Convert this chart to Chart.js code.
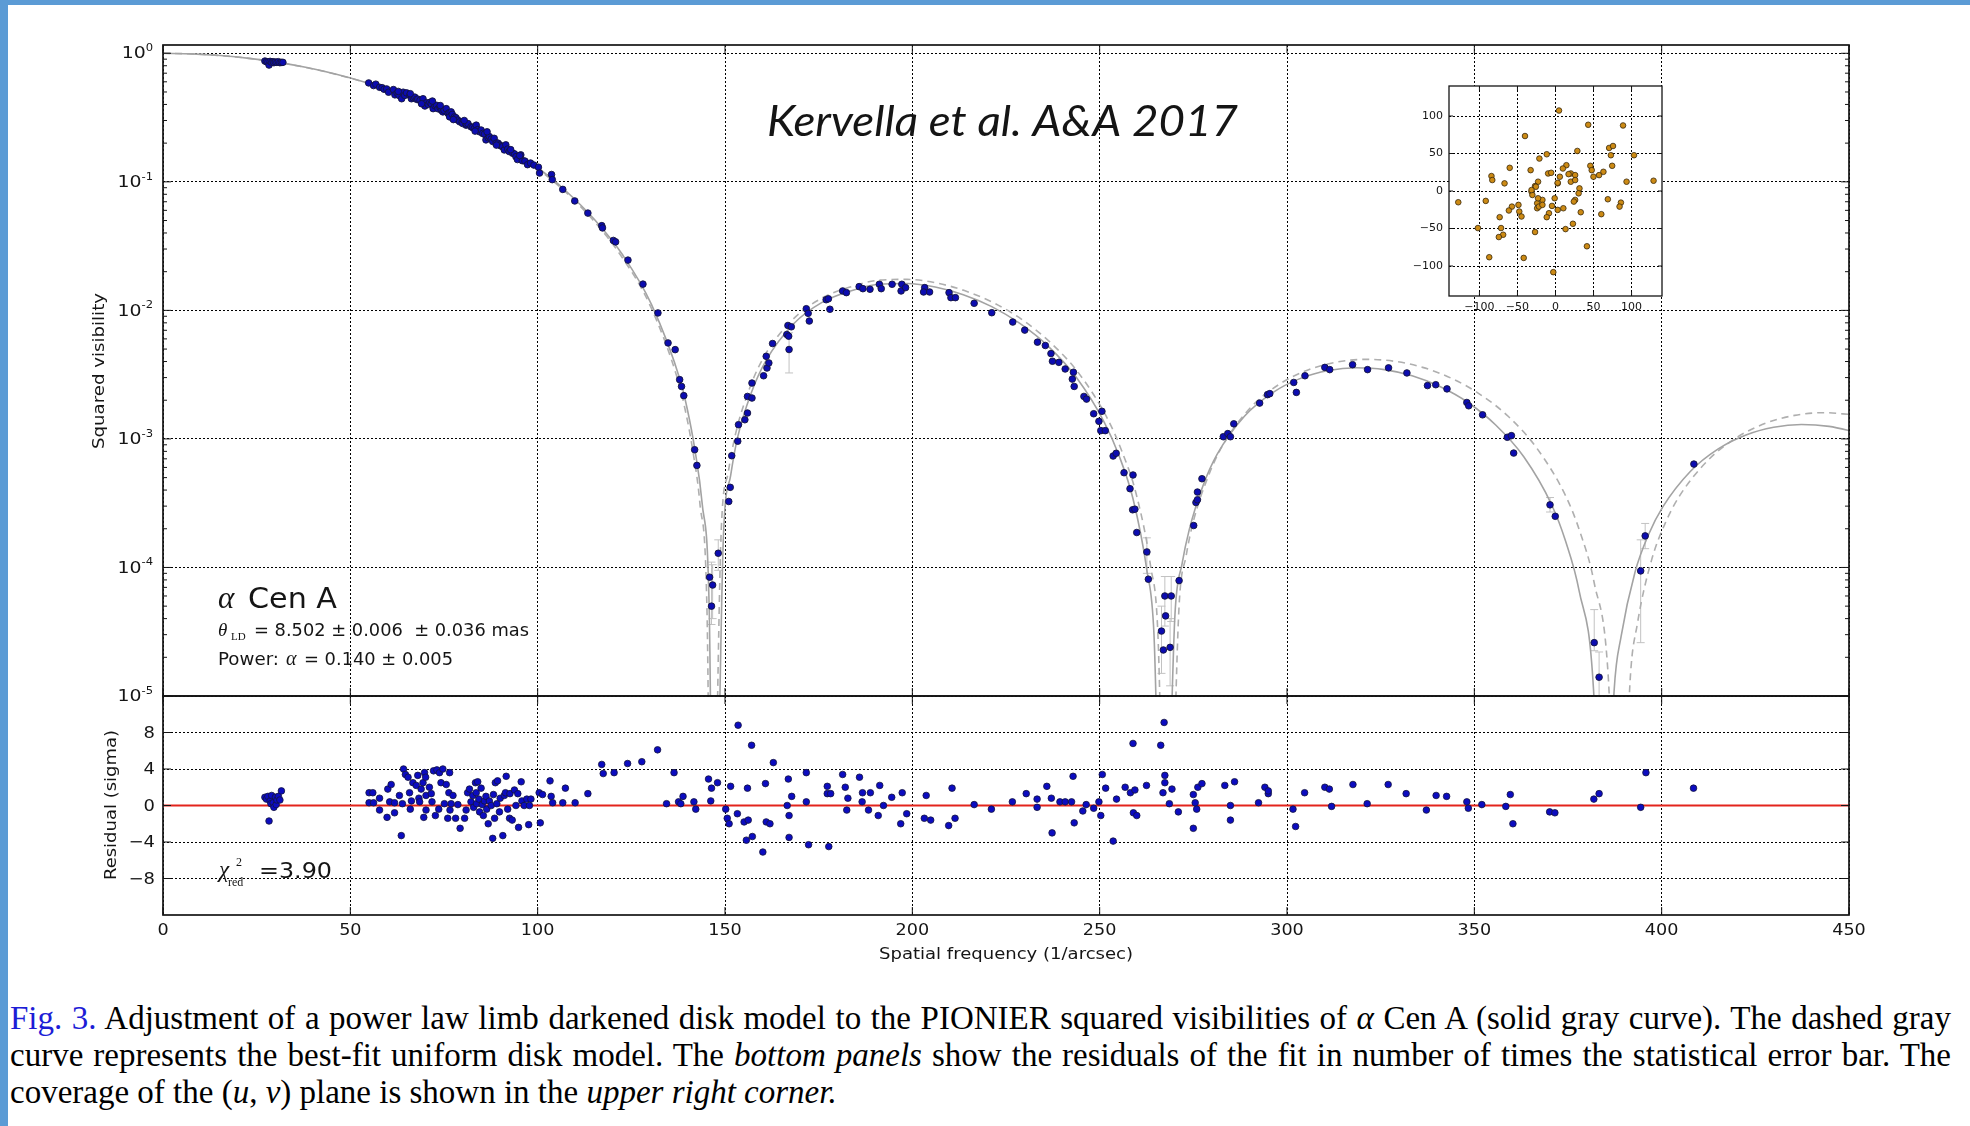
<!DOCTYPE html>
<html>
<head>
<meta charset="utf-8">
<script src="https://cdn.jsdelivr.net/npm/chart.js@4.4.1/dist/chart.umd.min.js"></script>
<style>
  body { margin: 0; background: #fff; }
  #page { position: relative; width: 1970px; height: 1126px; overflow: hidden; background: #fff; }
  .bar { position: absolute; background: #5b9bd5; }
  canvas { position: absolute; }
  .cap { position: absolute; left: 10px; font-family: "Liberation Serif", serif; font-size: 33px; line-height: 37px; white-space: nowrap; color: #000; }
  .fig { color: #1d1dd6; }
</style>
</head>
<body>
<div id="page">
  <div class="bar" style="left:0;top:0;width:1970px;height:5px"></div>
  <div class="bar" style="left:0;top:0;width:8px;height:1126px"></div>
  <canvas id="visChart" width="1970" height="720" style="left:0;top:0"></canvas>
  <canvas id="resChart" width="1970" height="300" style="left:0;top:680px"></canvas>
  <canvas id="uvChart" width="290" height="260" style="left:1400px;top:70px"></canvas>
  <div class="cap" id="cap1" style="top:1000px"><span class="fig">Fig. 3.</span> Adjustment of a power law limb darkened disk model to the PIONIER squared visibilities of <i>α</i> Cen A (solid gray curve). The dashed gray</div>
  <div class="cap" id="cap2" style="top:1037px">curve represents the best-fit uniform disk model. The <i>bottom panels</i> show the residuals of the fit in number of times the statistical error bar. The</div>
  <div class="cap" id="cap3" style="top:1074px">coverage of the (<i>u</i>, <i>v</i>) plane is shown in the <i>upper right corner.</i></div>
</div>
<script>
// axis ticks
const freqTicks = [0, 50, 100, 150, 200, 250, 300, 350, 400, 450];
const visDecades = [0, -1, -2, -3, -4, -5];
const resTicks = [-8, -4, 0, 4, 8];
const uvTicks = [-100, -50, 0, 50, 100];

// power-law limb darkened disk fit (solid gray)
const ldFreq = [0, 7.7, 15.3, 23.0, 30.7, 38.4, 46.0, 53.7, 61.4, 69.0,
  76.7, 84.4, 92.1, 99.7, 107.4, 115.1, 122.8, 130.4, 138.1, 140.0,
  141.9, 143.9, 145.8, 147.0,
  149.6, 151.5, 153.3, 157.1, 160.9, 168.4, 175.9, 183.5, 191.0, 198.6,
  206.1, 213.6, 221.2, 228.7, 236.3, 243.8, 251.3, 255.1, 258.9, 262.6,
  264.5, 267.0,
  270.1, 272.0, 273.9, 277.6, 281.3, 288.7, 296.2, 303.6, 311.1, 318.5,
  326.0, 333.4, 340.8, 348.3, 355.7, 363.2, 370.6, 374.3, 378.0, 381.8,
  384.5,
  387.3, 389.2, 392.9, 396.6, 400.3, 407.7, 415.1, 422.5, 429.9, 437.3,
  444.7, 452.1];
const ldVis2 = [1, 0.990, 0.960, 0.913, 0.850, 0.775, 0.690, 0.599, 0.508, 0.418,
  0.333, 0.256, 0.188, 0.131, 0.0856, 0.0511, 0.0267, 0.0111, 0.00282, 0.00167,
  8.46e-4, 3.15e-4, 4.54e-5, 1e-7,
  1.81e-4, 5.18e-4, 1.01e-3, 2.32e-3, 4.05e-3, 7.90e-3, 0.01153, 0.01414, 0.01597, 0.0162,
  0.01521, 0.01325, 0.0107, 0.00791, 0.00525, 0.0030, 0.001335, 7.5e-4, 3.42e-4, 9.5e-5,
  3.0e-5, 1e-7,
  4.33e-5, 1.07e-4, 1.96e-4, 4.34e-4, 7.54e-4, 1.509e-3, 2.294e-3, 2.958e-3, 3.406e-3, 3.575e-3,
  3.462e-3, 3.099e-3, 2.555e-3, 1.921e-3, 1.284e-3, 7.27e-4, 3.09e-4, 1.62e-4, 6.51e-5, 1.14e-5,
  1e-7,
  1.09e-5, 2.93e-5, 9.23e-5, 1.83e-4, 2.96e-4, 5.61e-4, 8.37e-4, 1.074e-3, 1.234e-3, 1.296e-3,
  1.252e-3, 1.123e-3];

// best-fit uniform disk (dashed gray)
const udFreq = [0, 7.6, 15.3, 22.9, 30.6, 38.2, 45.8, 53.5, 61.1, 68.8,
  76.4, 84.0, 91.7, 99.3, 107.0, 114.6, 122.2, 129.9, 137.5, 139.4,
  141.3, 143.3, 145.2, 146.4,
  149.0, 150.9, 152.8, 156.6, 160.4, 168.1, 175.7, 183.4, 191.0, 198.6,
  206.3, 213.9, 221.6, 229.2, 236.8, 244.5, 252.1, 255.9, 259.8, 263.6,
  265.5, 268.0,
  271.2, 273.1, 275.0, 278.9, 282.7, 290.3, 298.0, 305.6, 313.2, 320.9,
  328.5, 336.2, 343.8, 351.4, 359.1, 366.7, 374.4, 378.2, 382.0, 385.8,
  388.6,
  391.6, 393.5, 397.3, 401.1, 404.9, 412.6, 420.2, 427.8, 435.5, 443.1,
  450.8];
const udVis2 = [1, 0.990, 0.960, 0.913, 0.850, 0.775, 0.690, 0.599, 0.508, 0.418,
  0.333, 0.256, 0.188, 0.131, 0.0856, 0.0511, 0.0267, 0.0111, 0.00282, 0.00167,
  8.46e-4, 3.15e-4, 4.54e-5, 1e-7,
  1.95e-4, 5.57e-4, 1.089e-3, 2.49e-3, 4.356e-3, 8.497e-3, 0.0124, 0.0152, 0.01717, 0.01742,
  0.01636, 0.01425, 0.0115, 0.008507, 0.005644, 0.003221, 0.001435, 8.06e-4, 3.68e-4, 1.02e-4,
  3.25e-5, 1e-7,
  5.04e-5, 1.24e-4, 2.28e-4, 5.05e-4, 8.77e-4, 1.755e-3, 2.667e-3, 3.44e-3, 3.96e-3, 4.157e-3,
  4.025e-3, 3.603e-3, 2.971e-3, 2.234e-3, 1.493e-3, 8.45e-4, 3.59e-4, 1.89e-4, 7.57e-5, 1.33e-5,
  1e-7,
  1.35e-5, 3.62e-5, 1.14e-4, 2.26e-4, 3.65e-4, 6.93e-4, 1.033e-3, 1.326e-3, 1.524e-3, 1.6e-3,
  1.546e-3];

// PIONIER squared visibilities
const obsFreq = [27.2, 27.6, 28.0, 28.3, 28.6, 29.0, 29.4, 29.6, 30.0, 30.4, 30.8, 31.2, 31.6, 32.0,
  54.9, 56.2, 56.8, 57.8, 58.5, 59.0, 59.7, 60.2, 61.5, 61.9,
  62.5, 63.0, 63.7, 64.1, 64.5, 65.0, 65.9, 66.3, 66.8, 67.2,
  67.7, 68.0, 68.6, 69.4, 69.9, 70.3, 70.8, 71.2, 71.6, 72.1,
  72.6, 73.0, 73.4, 73.9, 74.3, 74.7, 75.0, 75.6, 76.1, 76.4,
  76.5, 76.9, 77.2, 77.8, 78.2, 78.7, 79.2, 79.8, 80.0, 80.9,
  81.0, 81.4, 82.2, 82.6, 83.1, 83.6, 84.0, 84.5, 84.9, 85.3,
  85.8, 86.2, 86.8, 87.1, 87.6, 88.0, 88.4, 88.9, 89.4, 89.8,
  90.2, 90.6, 91.1, 91.5, 92.0, 92.4, 93.3, 93.8, 94.2, 94.6,
  95.5, 95.9, 96.6, 97.3, 98.1, 99.0,
  62.8, 66.0, 69.0, 71.9, 74.0, 77.5, 80.4, 83.3, 86.5, 89.0, 92.8, 95.2,
  100.2, 100.5, 103.7, 103.9, 106.7, 109.9, 113.4, 117.1, 117.3, 120.2,
  120.8, 124.1, 128.1, 132.1, 134.8, 136.7, 137.9, 138.4, 139.0, 141.9,
  142.5, 145.9, 146.4, 146.7, 148.2, 151.0, 151.4, 151.8,
  153.4, 153.6, 155.3, 156.0, 156.0, 157.2, 157.2, 160.3, 161.2, 161.7,
  161.0, 162.7, 166.5, 167.0, 166.8, 167.7, 167.1, 171.7, 172.2, 172.5,
  177.0, 177.6, 178.0, 181.4, 182.4, 185.8, 186.8, 188.7, 191.2, 191.7,
  194.6, 197.2, 197.0, 198.2, 203.3, 204.6, 203.0, 209.8, 210.3, 211.5,
  216.5, 221.2, 226.8, 230.0, 233.4, 235.5, 237.0, 237.4, 239.1, 240.8,
  243.0, 242.7, 243.2, 245.8, 246.5, 248.4, 250.6, 249.8, 250.3, 251.5,
  253.6, 254.4, 256.5, 258.9,
  258.1, 258.8, 259.4, 259.9, 262.6, 263.0, 266.5, 267.0, 267.4, 267.6,
  268.8, 269.1, 271.2, 275.1, 275.7, 276.1, 276.1, 277.3, 283.0, 284.2,
  284.9, 285.8, 292.7, 294.8, 295.4, 301.8, 302.5, 304.8, 310.1, 311.4,
  317.5, 321.5, 327.1, 332.0, 337.5, 339.7, 342.7, 348.0, 348.5, 352.2,
  358.8, 359.9, 360.5, 370.2, 371.6, 382.0, 383.3, 394.4, 395.6, 408.6];
const obsVis2 = [0.87, 0.86, 0.855, 0.81, 0.865, 0.85, 0.86, 0.845, 0.855, 0.85, 0.86, 0.845, 0.85, 0.85,
  0.588, 0.561, 0.575, 0.544, 0.54, 0.525, 0.528, 0.498, 0.522, 0.475,
  0.49, 0.47, 0.443, 0.498, 0.47, 0.492, 0.470, 0.443, 0.45, 0.456,
  0.438, 0.44, 0.430, 0.443, 0.389, 0.412, 0.40, 0.415, 0.405, 0.371,
  0.39, 0.394, 0.37, 0.382, 0.360, 0.350, 0.36, 0.371, 0.340, 0.345,
  0.320, 0.350, 0.335, 0.320, 0.315, 0.302, 0.293, 0.29, 0.284, 0.276,
  0.28, 0.284, 0.268, 0.265, 0.260, 0.276, 0.255, 0.245, 0.253, 0.238,
  0.235, 0.212, 0.22, 0.225, 0.215, 0.206, 0.218, 0.200, 0.20, 0.194,
  0.19, 0.188, 0.177, 0.194, 0.18, 0.172, 0.167, 0.165, 0.157, 0.149,
  0.162, 0.146, 0.145, 0.136, 0.140, 0.135,
  0.505, 0.485, 0.405, 0.425, 0.392, 0.305, 0.300, 0.248, 0.245, 0.193, 0.178, 0.160,
  0.130, 0.117, 0.114, 0.104, 0.0873, 0.0710, 0.0571, 0.0456, 0.0438, 0.0350,
  0.0341, 0.0246, 0.0160, 0.00955, 0.00558, 0.00495, 0.00289, 0.00256, 0.00217, 8.24e-4,
  6.22e-4, 8.4e-5, 5.0e-5, 7.3e-5, 1.29e-4, 3.26e-4, 4.2e-4, 7.4e-4,
  9.6e-4, 1.29e-3, 1.41e-3, 1.59e-3, 2.14e-3, 2.08e-3, 2.72e-3, 3.1e-3, 3.56e-3, 3.9e-3,
  4.39e-3, 5.52e-3, 6.49e-3, 6.3e-3, 7.63e-3, 7.45e-3, 4.96e-3, 0.0103, 9.48e-3, 8.26e-3,
  0.0121, 0.0123, 0.0102, 0.01416, 0.01374, 0.0153, 0.01475, 0.0146, 0.01596, 0.01475,
  0.01596, 0.01596, 0.01416, 0.01503, 0.01503, 0.0139, 0.0139, 0.01374, 0.01256, 0.01256,
  0.01135, 9.59e-3, 8.11e-3, 7.02e-3, 5.66e-3, 5.33e-3, 4.61e-3, 4.02e-3, 3.94e-3, 3.5e-3,
  3.3e-3, 2.92e-3, 2.56e-3, 2.14e-3, 2.04e-3, 1.57e-3, 1.64e-3, 1.37e-3, 1.16e-3, 1.16e-3,
  7.36e-4, 7.73e-4, 5.46e-4, 5.24e-4,
  4.1e-4, 2.81e-4, 2.84e-4, 1.87e-4, 1.32e-4, 8.1e-5, 3.2e-5, 2.28e-5, 6.0e-5, 4.2e-5,
  2.39e-5, 6.0e-5, 7.9e-5, 2.12e-4, 3.2e-4, 3.36e-4, 3.86e-4, 4.9e-4, 1.04e-3, 1.1e-3,
  1.04e-3, 1.31e-3, 1.9e-3, 2.21e-3, 2.25e-3, 2.75e-3, 2.3e-3, 3.1e-3, 3.6e-3, 3.46e-3,
  3.78e-3, 3.46e-3, 3.57e-3, 3.26e-3, 2.6e-3, 2.64e-3, 2.45e-3, 1.92e-3, 1.81e-3, 1.54e-3,
  1.03e-3, 1.06e-3, 7.76e-4, 3.07e-4, 2.5e-4, 2.6e-5, 1.4e-5, 9.4e-5, 1.76e-4, 6.37e-4];

// error bars large enough to show outside the markers
const errFreq = [146.4, 146.7, 148.2, 167.1, 262.6, 266.5, 267.4, 268.8, 269.1, 370.2, 382.0, 383.3, 394.4, 395.6];
const errLow = [3.6e-5, 4.0e-5, 9.5e-5, 3.26e-3, 9.0e-5, 1.5e-5, 3.5e-5, 1.2e-5, 3.8e-5, 2.7e-4, 2.25e-5, 8e-6, 2.6e-5, 1.4e-4];
const errHigh = [1.1e-4, 1.05e-4, 1.64e-4, 6.7e-3, 1.7e-4, 5.0e-5, 8.5e-5, 4.0e-5, 8.5e-5, 3.5e-4, 4.7e-5, 2.2e-5, 1.64e-4, 2.2e-4];

// residuals in units of the statistical error
const resFreq = [27.2, 27.6, 28.0, 28.3, 28.6, 28.8, 29.0, 29.4, 29.6, 30.0, 30.2, 30.4, 30.8, 31.2, 31.6,
  55.0, 56.0, 55.0, 56.2, 57.8, 57.8, 59.8, 60.0, 60.9, 60.5,
  61.8, 61.8, 63.1, 63.9, 63.6, 64.2, 64.7, 65.4, 65.8, 66.0,
  66.3, 66.7, 67.6, 68.0, 68.3, 68.5, 68.9, 69.4, 69.8, 70.1,
  70.2, 69.6, 70.2, 71.1, 71.6, 71.8, 72.2, 72.7, 73.1, 73.6,
  73.8, 74.2, 74.7, 75.1, 75.6, 76.0, 76.3, 76.5, 76.6, 76.9,
  77.4, 78.1, 78.7, 79.3, 80.5, 80.9, 81.3, 81.8, 82.2, 82.7,
  82.9, 83.4, 83.6, 83.7, 84.0, 84.3, 84.5, 84.9, 85.2, 85.5,
  85.8, 86.2, 86.4, 86.8, 87.1, 87.6, 88.0, 88.2, 88.5, 88.7,
  89.1, 89.3, 89.8, 90.0, 90.7, 91.1, 91.4, 91.6, 92.0, 92.5,
  92.6, 93.2, 93.8, 94.2, 94.7, 94.9, 95.6, 95.8, 96.4, 97.1,
  97.6, 97.8, 98.2, 100.4, 100.7, 101.3, 103.3, 103.6, 104.0, 106.7,
  107.4, 110.0, 113.4, 117.1, 117.5, 120.4, 124.0, 127.8, 132.0, 134.4,
  136.4, 137.6, 138.2, 138.8, 141.7, 142.2, 145.6, 146.2, 146.4, 148.0,
  150.2, 150.6, 151.1, 151.5, 153.3, 155.1, 155.7, 156.0, 156.2, 157.1,
  157.3, 160.1, 160.8, 161.0, 153.5,
  162.0, 162.9, 166.6, 166.9, 167.1, 167.1, 167.8, 171.7, 171.7, 172.3,
  177.3, 177.3, 177.7, 178.2, 181.4, 182.1, 182.5, 182.8, 185.9, 186.6,
  186.7, 188.3, 188.8, 190.9, 191.3, 192.3, 194.5, 196.9, 197.3, 198.5,
  203.2, 203.7, 204.9, 209.7, 210.6, 211.4, 216.5, 221.1,
  226.7, 230.4, 233.3, 233.3, 235.9, 237.1, 237.3, 239.4, 240.8, 242.5,
  242.9, 243.2, 245.5, 246.4, 248.4, 249.8, 250.3, 250.7, 251.6, 253.6,
  254.5, 256.8, 258.2, 258.9, 259.0, 259.4, 259.9, 262.5, 266.3, 266.9,
  267.2, 267.4, 267.4, 268.6, 269.3, 271.0, 275.0, 275.0, 275.5, 275.9,
  276.2, 277.3, 283.4, 284.9, 284.9, 286.0, 292.4, 294.1, 295.0, 295.0,
  301.6, 302.3, 304.7, 310.1, 311.3, 311.9, 317.6, 321.4, 327.0, 331.8,
  337.2, 339.8, 342.6, 348.0, 348.4, 352.0, 358.4, 359.6, 360.3, 370.1,
  371.5, 381.9, 383.3, 394.4, 395.8, 408.5];
const resSigma = [0.9, 0.7, 1.0, -1.7, 0.5, 0.2, 1.1, 0.3, -0.2, 0.9, 0.1, 0.6, 1.0, 0.6, 1.6,
  1.4, 1.4, 0.3, 0.3, 0.8, -0.5, -1.3, 1.8, 2.3, 0.4,
  0.3, -0.8, 1.1, 0.2, -3.3, 4.0, 3.4, 3.1, 1.4, -0.4,
  0.5, 2.5, 2.2, 3.3, 0.8, 0.4, 1.8, 2.5, 3.6, 3.1,
  1.1, -1.3, -0.5, 2.0, 1.3, 0.4, 3.8, -1.1, 3.9, -0.4,
  3.6, 2.5, 4.0, 0.2, 2.3, -1.4, 1.4, 3.6, -0.5, 0.2,
  1.1, -1.4, 0.1, -2.5, -1.4, -0.5, 1.4, 1.8, 0.4, 1.1,
  -0.2, 2.5, 1.4, 0.2, 2.6, 0.7, -0.7, 1.9, 0.1, -1.1,
  0.5, 1.0, -0.4, -2.0, 0.5, 0.0, -3.6, 1.2, -1.4, 2.5,
  0.2, 2.7, -0.7, 0.8, -3.3, 1.1, 1.4, 3.2, -0.4, -1.4,
  1.3, -1.6, 1.7, 0.0, 1.3, -2.4, 2.6, 0.5, 0.0, 0.7,
  -2.1, 0.0, 0.7, 1.4, -1.9, 1.2, 2.7, 1.0, 0.3, 0.3,
  1.9, 0.3, 1.3, 4.5, 3.5, 3.6, 4.6, 4.8, 6.1, 0.2,
  3.6, 0.4, 0.2, 1.0, 0.4, -0.4, 2.9, 0.5, 1.9, 2.5,
  -0.4, -1.4, -2.0, 2.1, -0.9, -1.8, -3.8, 1.9, -1.6, 6.6,
  -3.4, -5.1, 2.4, -1.8, 8.8,
  -2.0, 4.7, 0.0, 2.9, -1.1, -3.5, 1.0, 3.6, 0.4, -4.3,
  2.1, 1.3, -4.5, 1.3, 3.4, 2.0, -0.5, 0.8, 3.1, 0.4,
  1.4, -0.5, 1.4, -1.1, 2.2, 0.0, 0.9, -2.0, 1.4, -0.9,
  -1.4, 1.1, -1.6, -2.2, 1.9, -1.4, 0.1, -0.4,
  0.4, 1.3, 0.7, -0.2, 2.1, 0.8, -3.0, 0.4, 0.4, 0.4,
  3.2, -1.9, -0.6, 0.1, -0.3, 0.4, -1.1, 3.4, 1.9, -3.9,
  0.7, 2.0, 1.4, 6.8, -0.8, 1.7, -1.1, 2.2, 6.6, 1.4,
  9.1, 3.3, 2.5, 0.2, 1.8, -0.7, 1.2, -2.5, 0.3, -0.4,
  2.0, 2.4, 2.2, 0.0, -1.6, 2.6, 0.3, 2.0, 1.3, 1.6,
  -0.4, -2.3, 1.4, 2.0, 1.8, -0.1, 2.3, 0.2, 2.3, 1.3,
  -0.5, 1.1, 1.0, 0.4, -0.3, 0.1, -0.1, 1.2, -2.0, -0.7,
  -0.8, 0.7, 1.3, -0.2, 3.6, 1.9];

// (u, v) plane coverage
const uCoord = [4.6, 43.0, 88.8, -40.1, 70.5, 75.6, 28.7, -11.5, -21.2, 72.8,
  103.2, -60.2, -32.7, 14.3, 9.7, 45.8, 74.5, -84.2, -83.1, -67.0,
  -9.7, -5.7, 5.7, 20.1, 25.8, 20.1, 25.8, 47.6, 49.9, 57.3,
  63.0, 93.4, 128.9, -22.9, -26.9, -31.5, -30.4, 31.5, 30.4, 2.9,
  -1.1, -127.8, -91.7, -57.3, -61.3, -48.7, -47.6, -44.7, -24.1, -24.1,
  -21.8, -17.2, -17.2, -4.6, 2.9, -8.6, -11.5, 10.3, 25.8, 24.1,
  33.2, 60.2, 68.8, 86.0, 84.2, -73.4, -102.0, -71.6, -68.8, -74.5,
  -26.9, 13.2, 22.9, 41.3, -87.1, -41.8, -2.9, -22.9, 2.9, 17.2,
  -25.8, -31.5];
const vCoord = [107.3, 88.3, 87.4, 73.3, 57.4, 60.0, 53.4, 49.0, 43.3, 47.7,
  47.7, 30.9, 27.8, 34.4, 30.0, 33.6, 33.6, 19.9, 14.6, 10.2,
  23.4, 24.3, 19.0, 23.4, 21.2, 12.4, 14.6, 27.8, 19.0, 21.2,
  25.6, 12.4, 13.7, 12.4, 6.6, -0.9, -5.3, 3.5, -3.1, 10.2,
  -9.7, -15.0, -13.2, -20.8, -26.0, -18.5, -27.4, -34.0, -16.3, -23.0,
  -20.8, -11.9, -18.5, -19.9, -25.2, -29.6, -34.9, -23.0, -11.9, -14.1,
  -28.3, -30.9, -11.0, -15.5, -20.8, -34.9, -49.4, -49.4, -58.3, -61.4,
  -54.7, -50.8, -43.7, -73.7, -88.3, -89.2, -108.2, -9.7, 11.0, 22.5,
  5.7, 1.3];

const INK = '#151515';

function drawText(ctx, text, x, y, font, align, baseline, stretch) {
  ctx.save();
  ctx.font = font;
  ctx.fillStyle = INK;
  ctx.textAlign = align;
  ctx.textBaseline = baseline;
  ctx.translate(x, y);
  ctx.scale(stretch, 1);
  ctx.fillText(text, 0, 0);
  ctx.restore();
}

// text squeezed or stretched to an exact width
function drawFitted(ctx, text, x, y, font, width, align, rotate) {
  ctx.save();
  ctx.font = font;
  ctx.fillStyle = INK;
  const w = ctx.measureText(text).width;
  ctx.translate(x, y);
  if (rotate) ctx.rotate(-Math.PI / 2);
  ctx.scale(width / w, 1);
  ctx.textAlign = align;
  ctx.textBaseline = rotate ? 'middle' : 'alphabetic';
  ctx.fillText(text, 0, 0);
  ctx.restore();
}

function tick(ctx, x, y, dx, dy) {
  ctx.beginPath();
  ctx.moveTo(x, y);
  ctx.lineTo(x + dx, y + dy);
  ctx.stroke();
}

function frame(ctx, a, width) {
  ctx.save();
  ctx.strokeStyle = INK;
  ctx.lineWidth = width;
  ctx.strokeRect(a.left, a.top, a.right - a.left, a.bottom - a.top);
  ctx.restore();
}

const baseOptions = (padding) => ({
  responsive: false,
  animation: false,
  events: [],
  layout: { padding },
  plugins: { legend: { display: false }, tooltip: { enabled: false } }
});

const gridStyle = { color: '#000', lineWidth: 1, drawTicks: false };
const gridBorder = { display: false, dash: [2, 2] };

// top panel: squared visibilities
const visDecor = {
  id: 'visDecor',
  beforeDatasetsDraw(chart) {
    const { ctx, chartArea: a, scales: { x, y } } = chart;
    ctx.save();
    ctx.beginPath();
    ctx.rect(a.left, a.top, a.right - a.left, a.bottom - a.top);
    ctx.clip();
    ctx.strokeStyle = '#c2c2c2';
    ctx.lineWidth = 1;
    errFreq.forEach((f, i) => {
      const px = x.getPixelForValue(f);
      const lo = y.getPixelForValue(errLow[i]);
      const hi = y.getPixelForValue(errHigh[i]);
      ctx.beginPath();
      ctx.moveTo(px, lo); ctx.lineTo(px, hi);
      ctx.moveTo(px - 4, lo); ctx.lineTo(px + 4, lo);
      ctx.moveTo(px - 4, hi); ctx.lineTo(px + 4, hi);
      ctx.stroke();
    });
    ctx.restore();
  },
  afterDraw(chart) {
    const { ctx, chartArea: a, scales: { x, y } } = chart;
    ctx.save();
    ctx.strokeStyle = INK;
    ctx.lineWidth = 1;
    // log minor ticks on both sides
    visDecades.forEach(d => {
      for (let m = 2; m <= 9; m++) {
        const v = m * Math.pow(10, d);
        if (v > y.max) continue;
        const py = y.getPixelForValue(v);
        tick(ctx, a.left, py, 4, 0);
        tick(ctx, a.right, py, -4, 0);
      }
      const py = y.getPixelForValue(Math.pow(10, d));
      tick(ctx, a.left, py, 8, 0);
      tick(ctx, a.right, py, -8, 0);
    });
    freqTicks.forEach(f => {
      const px = x.getPixelForValue(f);
      tick(ctx, px, a.top, 0, 8);
      tick(ctx, px, a.bottom, 0, -8);
    });
    ctx.restore();
    frame(ctx, a, 1.7);

    // decade labels 10^n
    visDecades.forEach(d => {
      const py = y.getPixelForValue(Math.pow(10, d));
      const exp = d === 0 ? '0' : '-' + Math.abs(d);
      ctx.font = '10.5px "DejaVu Sans"';
      const ew = ctx.measureText(exp).width * 1.1;
      const right = a.left - 10;
      drawText(ctx, exp, right, py - 5, '10.5px "DejaVu Sans"', 'right', 'middle', 1.1);
      drawText(ctx, '10', right - ew, py + 1, '16px "DejaVu Sans"', 'right', 'middle', 1.18);
    });

    drawFitted(ctx, 'Squared visibility', 100, 371, '16px "DejaVu Sans"', 156, 'center', true);

    drawFitted(ctx, 'Kervella et al. A&A 2017', 767, 136, 'italic 42px Lato', 471, 'left', false);

    drawText(ctx, 'α', 218, 608, 'italic 31px "Liberation Serif"', 'left', 'alphabetic', 1);
    drawFitted(ctx, 'Cen A', 248, 608, '29px "DejaVu Sans"', 89, 'left', false);

    drawText(ctx, 'θ', 218, 636, 'italic 19px "Liberation Serif"', 'left', 'alphabetic', 1);
    drawText(ctx, 'LD', 231, 640, '11px "Liberation Serif"', 'left', 'alphabetic', 1);
    drawFitted(ctx, '= 8.502 ± 0.006  ± 0.036 mas', 254, 636, '17px "DejaVu Sans"', 275, 'left', false);

    drawFitted(ctx, 'Power:', 218, 665, '17px "DejaVu Sans"', 61, 'left', false);
    drawText(ctx, 'α', 286, 665, 'italic 20px "Liberation Serif"', 'left', 'alphabetic', 1);
    drawFitted(ctx, '= 0.140 ± 0.005', 304, 665, '17px "DejaVu Sans"', 149, 'left', false);
  }
};

new Chart(document.getElementById('visChart'), {
  type: 'scatter',
  data: {
    datasets: [
      {
        data: obsFreq.map((f, i) => ({ x: f, y: obsVis2[i] })),
        pointRadius: 3.3,
        backgroundColor: '#0c0cb0',
        borderColor: '#14143c',
        borderWidth: 0.9,
        order: 0
      },
      {
        data: ldFreq.map((f, i) => ({ x: f, y: ldVis2[i] })),
        showLine: true,
        pointRadius: 0,
        borderColor: '#a3a3a3',
        borderWidth: 1.6,
        cubicInterpolationMode: 'monotone',
        clip: 0,
        order: 2
      },
      {
        data: udFreq.map((f, i) => ({ x: f, y: udVis2[i] })),
        showLine: true,
        pointRadius: 0,
        borderColor: '#afafaf',
        borderWidth: 1.6,
        borderDash: [7, 5],
        cubicInterpolationMode: 'monotone',
        clip: 0,
        order: 3
      }
    ]
  },
  options: {
    ...baseOptions({ left: 0, right: 121, top: 45, bottom: 24 }),
    scales: {
      x: {
        type: 'linear', min: 0, max: 450,
        afterBuildTicks: s => { s.ticks = freqTicks.map(v => ({ value: v })); },
        afterFit: s => { s.height = 0; },
        ticks: { display: false },
        grid: gridStyle,
        border: gridBorder
      },
      y: {
        type: 'logarithmic', min: 1e-5, max: 1.16,
        afterBuildTicks: s => { s.ticks = visDecades.map(d => ({ value: Math.pow(10, d) })); },
        afterFit: s => { s.width = 163; },
        ticks: { display: false },
        grid: gridStyle,
        border: gridBorder
      }
    }
  },
  plugins: [visDecor]
});

// bottom panel: residuals
const resDecor = {
  id: 'resDecor',
  afterDraw(chart) {
    const { ctx, chartArea: a, scales: { x, y } } = chart;
    ctx.save();
    ctx.strokeStyle = INK;
    ctx.lineWidth = 1;
    resTicks.forEach(r => {
      const py = y.getPixelForValue(r);
      tick(ctx, a.left, py, 8, 0);
      tick(ctx, a.right, py, -8, 0);
    });
    freqTicks.forEach(f => {
      const px = x.getPixelForValue(f);
      tick(ctx, px, a.top, 0, 8);
      tick(ctx, px, a.bottom, 0, -8);
    });
    ctx.restore();
    frame(ctx, a, 1.7);

    resTicks.forEach(r => {
      const label = r < 0 ? '\u2212' + Math.abs(r) : String(r);
      drawText(ctx, label, a.left - 8, y.getPixelForValue(r) + 1, '16px "DejaVu Sans"', 'right', 'middle', 1.12);
    });
    freqTicks.forEach(f => {
      drawText(ctx, String(f), x.getPixelForValue(f), a.bottom + 16, '16px "DejaVu Sans"', 'center', 'middle', 1.1);
    });
    drawFitted(ctx, 'Spatial frequency (1/arcsec)', 1006, a.bottom + 44, '16px "DejaVu Sans"', 254, 'center', false);
    drawFitted(ctx, 'Residual (sigma)', 112, 125, '16px "DejaVu Sans"', 150, 'center', true);

    // reduced chi-square of the fit
    drawText(ctx, 'χ', 219, 197, 'italic 23px "Liberation Serif"', 'left', 'alphabetic', 1);
    drawText(ctx, '2', 236, 186, '12px "Liberation Serif"', 'left', 'alphabetic', 1);
    drawText(ctx, 'red', 228, 206, '12px "Liberation Serif"', 'left', 'alphabetic', 1);
    drawFitted(ctx, '=3.90', 259, 198, '21px "DejaVu Sans"', 73, 'left', false);
  }
};

new Chart(document.getElementById('resChart'), {
  type: 'scatter',
  data: {
    datasets: [
      {
        data: resFreq.map((f, i) => ({ x: f, y: resSigma[i] })),
        pointRadius: 3.3,
        backgroundColor: '#0c0cc0',
        borderColor: '#14143c',
        borderWidth: 0.8,
        order: 0
      },
      {
        data: [{ x: freqTicks[0], y: 0 }, { x: freqTicks[freqTicks.length - 1], y: 0 }],
        showLine: true,
        pointRadius: 0,
        borderColor: '#e3241c',
        borderWidth: 2,
        order: 1
      }
    ]
  },
  options: {
    ...baseOptions({ left: 0, right: 121, top: 16, bottom: 65 }),
    scales: {
      x: {
        type: 'linear', min: 0, max: 450,
        afterBuildTicks: s => { s.ticks = freqTicks.map(v => ({ value: v })); },
        afterFit: s => { s.height = 0; },
        ticks: { display: false },
        grid: gridStyle,
        border: gridBorder
      },
      y: {
        type: 'linear', min: -12, max: 12,
        afterBuildTicks: s => { s.ticks = resTicks.map(v => ({ value: v })); },
        afterFit: s => { s.width = 163; },
        ticks: { display: false },
        grid: gridStyle,
        border: gridBorder
      }
    }
  },
  plugins: [resDecor]
});

// inset: (u, v) coverage
const uvDecor = {
  id: 'uvDecor',
  beforeDraw(chart) {
    const { ctx, chartArea: a } = chart;
    ctx.save();
    ctx.fillStyle = '#fff';
    ctx.fillRect(a.left, a.top, a.right - a.left, a.bottom - a.top);
    ctx.restore();
  },
  afterDraw(chart) {
    const { ctx, chartArea: a, scales: { x, y } } = chart;
    ctx.save();
    ctx.strokeStyle = INK;
    ctx.lineWidth = 1;
    uvTicks.forEach(t => {
      const px = x.getPixelForValue(t), py = y.getPixelForValue(t);
      tick(ctx, px, a.bottom, 0, -4);
      tick(ctx, px, a.top, 0, 4);
      tick(ctx, a.left, py, 4, 0);
      tick(ctx, a.right, py, -4, 0);
    });
    ctx.restore();
    frame(ctx, a, 1.3);
    uvTicks.forEach(t => {
      const label = t < 0 ? '\u2212' + Math.abs(t) : String(t);
      drawText(ctx, label, a.left - 6, y.getPixelForValue(t), '10px "DejaVu Sans"', 'right', 'middle', 1.1);
      drawText(ctx, label, x.getPixelForValue(t), a.bottom + 11, '10px "DejaVu Sans"', 'center', 'middle', 1.1);
    });
  }
};

new Chart(document.getElementById('uvChart'), {
  type: 'scatter',
  data: {
    datasets: [{
      data: uCoord.map((u, i) => ({ x: u, y: vCoord[i] })),
      pointRadius: 2.8,
      backgroundColor: '#cc8a14',
      borderColor: '#3a2a0c',
      borderWidth: 0.8
    }]
  },
  options: {
    ...baseOptions({ left: 0, right: 28, top: 16, bottom: 34 }),
    scales: {
      x: {
        type: 'linear', min: -140, max: 140,
        afterBuildTicks: s => { s.ticks = uvTicks.map(v => ({ value: v })); },
        afterFit: s => { s.height = 0; },
        ticks: { display: false },
        grid: gridStyle,
        border: gridBorder
      },
      y: {
        type: 'linear', min: -140, max: 140,
        afterBuildTicks: s => { s.ticks = uvTicks.map(v => ({ value: v })); },
        afterFit: s => { s.width = 49; },
        ticks: { display: false },
        grid: gridStyle,
        border: gridBorder
      }
    }
  },
  plugins: [uvDecor]
});

// justify the first two caption lines to the full width
['cap1', 'cap2'].forEach(id => {
  const el = document.getElementById(id);
  const gaps = el.textContent.trim().split(/\s+/).length - 1;
  const w = el.getBoundingClientRect().width;
  el.style.wordSpacing = ((1941 - w) / gaps) + 'px';
});
</script>
</body>
</html>
